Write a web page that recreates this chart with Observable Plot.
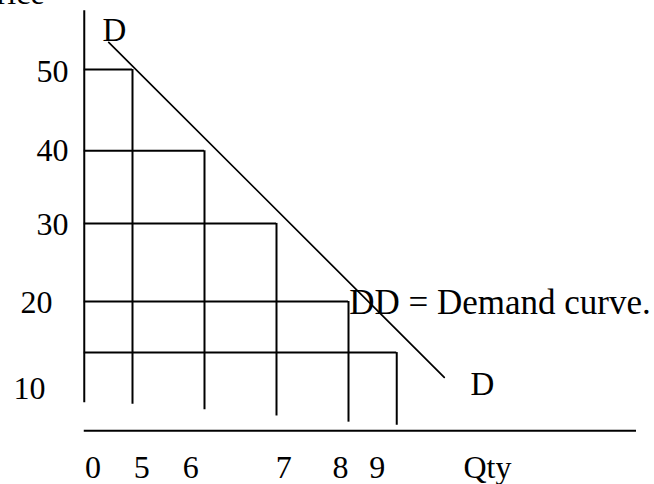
<!DOCTYPE html>
<html><head><meta charset="utf-8">
<script src="https://cdn.jsdelivr.net/npm/d3@7"></script>
<script src="https://cdn.jsdelivr.net/npm/@observablehq/plot@0.6"></script>
<style>body{margin:0;background:#fff}svg{display:block}</style>
</head><body><div id="chart"></div>
<script>
// Demand schedule (price -> quantity), as drawn (diagram not to scale)
const prices = [50, 40, 30, 20, 10];
const quantities = [5, 6, 7, 8, 9];
// price level at which each step's horizontal is drawn
const stepPrice = [50, 39.5, 30.1, 20, 13.4];
// quantity-axis position of each step's vertical (diagram units)
const stepQty = [5, 6, 7, 8, 8.67];
// lower end of each vertical
const stepBottom = [6.7, 6.0, 5.2, 4.4, 4.0];
// price tick labels and their drawn positions
const priceLabels = ["50", "40", "30", "20", "10"];
const priceLabelY = [49.7, 39.5, 29.9, 19.8, 8.7];
const priceLabelX = [4.11, 4.11, 4.11, 3.89, 3.79];
// quantity tick labels and their drawn positions
const qtyLabels = ["0", "5", "6", "7", "8", "9", "Qty"];
const qtyLabelX = [4.45, 5.13, 5.81, 7.1, 7.89, 8.4, 9.93];
const qtyLabelY = -1.5;
// demand curve DD endpoints
const demandQty = [4.67, 9.33];
const demandPrice = [53.5, 10.2];
// axes extents
const axisQty = 4.33;
const axisTop = 57.6, axisBottom = 6.9;
const baseY = 3.3, baseEnd = 12;

const steps = prices.map((p, i) => ({price: p, qty: quantities[i], py: stepPrice[i], qx: stepQty[i], bottom: stepBottom[i]}));
const demand = demandQty.map((q, i) => ({q, p: demandPrice[i]}));
const pLab = priceLabels.map((t, i) => ({t, x: priceLabelX[i], y: priceLabelY[i]}));
const qLab = qtyLabels.map((t, i) => ({t, x: qtyLabelX[i], y: qtyLabelY}));

const font = "Liberation Serif, Times New Roman, serif";
const sw = 2;
const chart = Plot.plot({
  width: 654, height: 484,
  margin: 0,
  x: {domain: [3.1667, 12.25], axis: null},
  y: {domain: [-3.66, 58.92], axis: null},
  style: {fontFamily: font, background: "#fff"},
  marks: [
    Plot.ruleX([axisQty], {y1: axisBottom, y2: axisTop, stroke: "#000", strokeWidth: sw}),
    Plot.ruleY(steps, {y: "py", x1: axisQty, x2: "qx", stroke: "#000", strokeWidth: sw}),
    Plot.ruleX(steps, {x: "qx", y1: "py", y2: "bottom", stroke: "#000", strokeWidth: sw}),
    Plot.ruleY([baseY], {x1: axisQty, x2: baseEnd, stroke: "#000", strokeWidth: sw}),
    Plot.line(demand, {x: "q", y: "p", stroke: "#000", strokeWidth: 1.7}),
    Plot.text(pLab, {x: "x", y: "y", text: "t", textAnchor: "end", fontSize: 32, fill: "#000"}),
    Plot.text(qLab, {x: "x", y: "y", text: "t", fontSize: 32, fill: "#000"}),
    Plot.text(["D"], {x: 4.75, y: 55.0, text: d => d, fontSize: 33, fill: "#000"}),
    Plot.text(["D"], {x: 9.86, y: 9.3, text: d => d, fontSize: 33, fill: "#000"}),
    Plot.text(["DD = Demand curve."], {x: 8.01, y: 19.8, text: d => d, textAnchor: "start", fontSize: 35, fill: "#000"}),
    Plot.text(["Price"], {x: 3.78, y: 59.8, text: d => d, textAnchor: "end", fontSize: 32, fill: "#000"})
  ]
});
document.getElementById("chart").append(chart);
</script>
</body></html>
